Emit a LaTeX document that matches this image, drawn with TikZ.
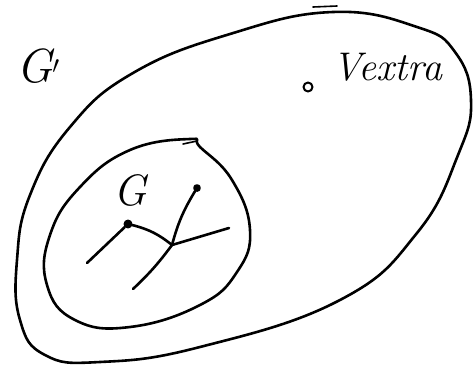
\documentclass[tikz,border=0pt]{standalone}
\begin{document}
\begin{tikzpicture}[x=1pt, y=-1pt, line width=2.6pt, line cap=round, line join=round, font=\itshape]
  \useasboundingbox (0,0) rectangle (474,370);
  % outer graph G'
  \draw plot[smooth cycle, tension=0.75] coordinates {(333,12) (417,27) (455,52) (471,100) (458,155) (417,233) (340,300) (200,347) (100,362) (45,355) (20,320) (17,260) (30,195) (70,127) (133,73) (230,34)};
  \draw[line width=1.6pt] (313,7) -- (337,6);
  % inner graph G
  \draw plot[smooth cycle, tension=0.75] coordinates {(190,139) (200,147) (232,180) (250,230) (237,272) (200,305) (130,327) (75,320) (47,285) (50,235) (80,187) (130,150)};
  \draw[line width=1.6pt] (183,144) -- (197,141);
  \node[font=\fontsize{48}{48}\selectfont\itshape] (gprime) at (38,66) {G$'$};
  \node[font=\fontsize{44}{44}\selectfont\itshape] (glabel) at (130,190) {G};
  \node[font=\fontsize{40}{40}\selectfont\itshape, anchor=base west] (extra) at (328,80) {Vextra};
  \node[draw, circle, line width=2pt, minimum size=9pt, inner sep=0pt] (vx) at (308,87) {};
  % edges of G
  \node[draw, circle, fill, inner sep=2.2pt] (va) at (128,224) {};
  \node[draw, circle, fill, inner sep=1.8pt] (vb) at (197,188) {};
  \coordinate (mid) at (172,245);
  \coordinate (e1) at (87,263);
  \coordinate (e2) at (229,228);
  \coordinate (e3) at (133,289);
  \draw (va) -- (e1);
  \draw (va) to[bend left=12] (mid);
  \draw (vb) to[bend right=8] (mid);
  \draw (mid) -- (e2);
  \draw (mid) to[bend left=5] (e3);
\end{tikzpicture}
\end{document}
